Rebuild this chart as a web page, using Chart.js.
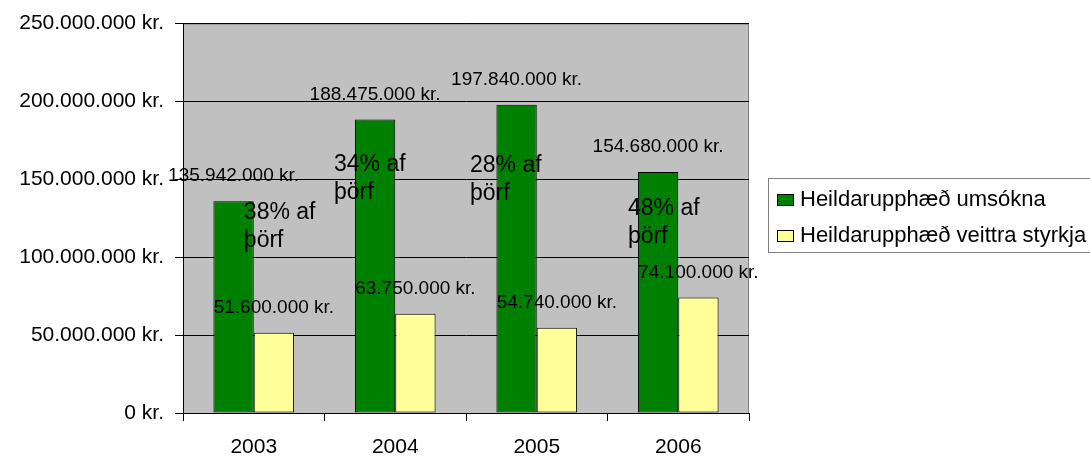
<!DOCTYPE html>
<html>
<head>
<meta charset="utf-8">
<script src="https://cdn.jsdelivr.net/npm/chart.js@4/dist/chart.umd.min.js"></script>
<style>
  body { margin: 0; background: #fff; }
  #wrap { width: 1090px; height: 458px; }
</style>
</head>
<body>
<div id="wrap"><canvas id="styrkirChart" width="1090" height="458"></canvas></div>
<script>
// Chart data
const years = ['2003', '2004', '2005', '2006'];
const umsoknir = [135942000, 188475000, 197840000, 154680000];
const veittir = [51600000, 63750000, 54740000, 74100000];
const yTicks = [0, 50000000, 100000000, 150000000, 200000000, 250000000];
const hlutfall = [['38% af', 'þörf'], ['34% af', 'þörf'], ['28% af', 'þörf'], ['48% af', 'þörf']];

// where the percentage notes sit (category units, value units)
const noteX = [-0.07, 0.567, 1.528, 2.645];
const noteY = [124600000, 155100000, 154500000, 127200000];

const FONT = '"Liberation Sans", Arial, sans-serif';

function kr(v) {
    return String(v).replace(/\B(?=(\d{3})+(?!\d))/g, '.') + ' kr.';
}

// gray plot background
const plotBg = {
    id: 'plotBg',
    beforeDraw(chart) {
        const a = chart.chartArea;
        const ctx = chart.ctx;
        ctx.save();
        ctx.fillStyle = '#c0c0c0';
        ctx.fillRect(a.left, a.top, a.right - a.left, a.bottom - a.top);
        ctx.strokeStyle = '#808080';
        ctx.lineWidth = 1;
        ctx.strokeRect(a.left + 0.5, a.top + 0.5, a.right - a.left - 1, a.bottom - a.top);
        ctx.restore();
    }
};

// value labels above bars and percentage notes
const barText = {
    id: 'barText',
    afterDatasetsDraw(chart) {
        const ctx = chart.ctx;
        ctx.save();
        ctx.fillStyle = '#000';
        ctx.font = '19px ' + FONT;
        ctx.textAlign = 'center';
        ctx.textBaseline = 'middle';
        chart.data.datasets.forEach((ds, di) => {
            chart.getDatasetMeta(di).data.forEach((bar, i) => {
                ctx.fillText(kr(ds.data[i]), bar.x, bar.y - 25);
            });
        });

        const xs = chart.scales.x;
        const ys = chart.scales.y;
        ctx.font = '23px ' + FONT;
        ctx.textAlign = 'left';
        ctx.textBaseline = 'alphabetic';
        hlutfall.forEach((lines, i) => {
            const x = xs.getPixelForValue(noteX[i]);
            const y = ys.getPixelForValue(noteY[i]);
            lines.forEach((t, k) => ctx.fillText(t, x, y + k * 28));
        });
        ctx.restore();
    }
};

// legend with a border, to the right of the plot
const boxLegend = {
    id: 'boxLegend',
    afterDraw(chart) {
        const ctx = chart.ctx;
        ctx.save();
        ctx.strokeStyle = '#808080';
        ctx.lineWidth = 1;
        ctx.strokeRect(768.5, 178.5, 400, 74);
        ctx.font = '22px ' + FONT;
        ctx.textBaseline = 'middle';
        ctx.textAlign = 'left';
        chart.data.datasets.forEach((ds, i) => {
            const cy = 200 + i * 36;
            ctx.fillStyle = ds.backgroundColor;
            ctx.fillRect(777, cy - 6, 17, 12);
            ctx.strokeStyle = '#000';
            ctx.strokeRect(777.5, cy - 5.5, 16, 11);
            ctx.fillStyle = '#000';
            ctx.fillText(ds.label, 800, cy);
        });
        ctx.restore();
    }
};

const ctx = document.getElementById('styrkirChart').getContext('2d');
const chart = new Chart(ctx, {
    type: 'bar',
    data: {
        labels: years,
        datasets: [{
            label: 'Heildarupphæð umsókna',
            data: umsoknir,
            backgroundColor: '#008000',
            borderColor: '#000',
            borderWidth: 1,
            borderSkipped: false
        }, {
            label: 'Heildarupphæð veittra styrkja',
            data: veittir,
            backgroundColor: '#ffff99',
            borderColor: '#000',
            borderWidth: 1,
            borderSkipped: false
        }]
    },
    options: {
        responsive: false,
        animation: false,
        devicePixelRatio: 1,
        layout: { padding: { left: 0, right: 341, top: 20, bottom: 0 } },
        datasets: { bar: { categoryPercentage: 0.57, barPercentage: 1 } },
        plugins: {
            legend: { display: false },
            tooltip: { enabled: false }
        },
        scales: {
            x: {
                grid: { offset: true, drawOnChartArea: false, tickLength: 8, tickColor: '#000' },
                border: { color: '#000', width: 1 },
                ticks: { color: '#000', padding: 14, font: { family: FONT, size: 21 } },
                afterFit(scale) { scale.height = 45; }
            },
            y: {
                min: 0,
                max: 250000000,
                afterBuildTicks(scale) { scale.ticks = yTicks.map(v => ({ value: v })); },
                grid: { color: '#000', tickLength: 8, tickColor: '#000' },
                border: { color: '#000', width: 1 },
                ticks: {
                    color: '#000',
                    padding: 11,
                    font: { family: FONT, size: 21 },
                    callback: v => kr(v)
                },
                afterFit(scale) { scale.width = 183; }
            }
        }
    },
    plugins: [plotBg, barText, boxLegend]
});
</script>
</body>
</html>
